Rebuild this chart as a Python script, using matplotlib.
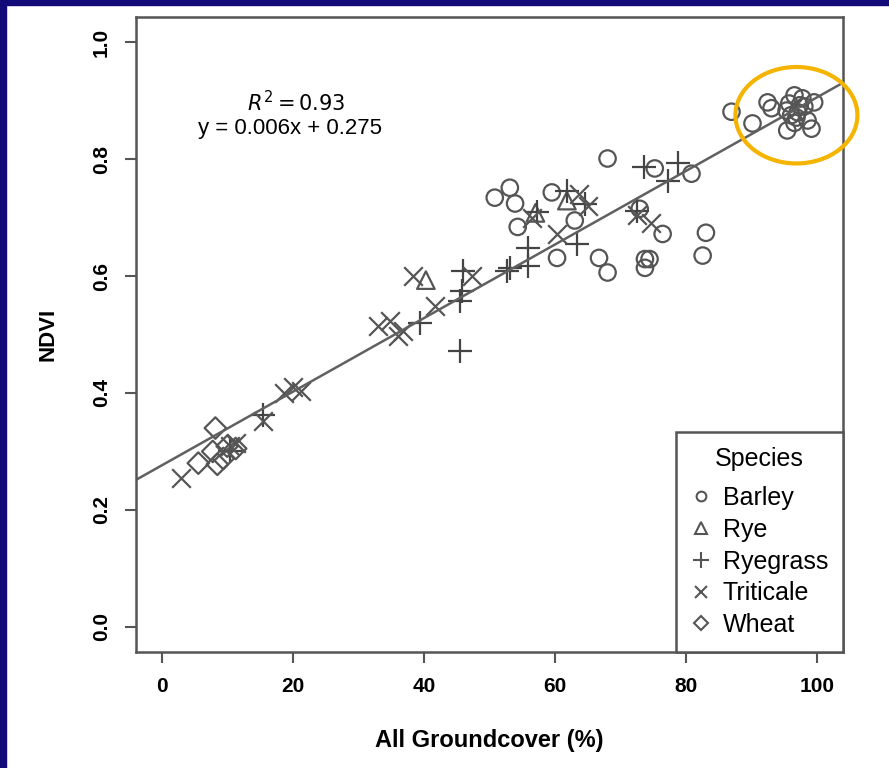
#%%
# NDVI vs all groundcover, by species
import numpy as np
import matplotlib
matplotlib.use('Agg')
import matplotlib.pyplot as plt
from matplotlib.lines import Line2D
from matplotlib.patches import Ellipse, Rectangle

plt.rcParams['font.family'] = ['Liberation Sans', 'DejaVu Sans']

# data (groundcover %, NDVI)
barley_x = [86.9, 90.1, 92.4, 93.0, 95.3, 95.4, 95.7, 96.5, 96.8, 97.3, 97.7, 98.5, 99.1, 99.5,
            96.0, 97.0, 98.0, 96.5,
            68.0, 50.8, 53.1, 53.9, 54.3, 59.5, 63.0, 60.3, 66.7, 68.0, 75.2, 80.8, 72.9,
            76.4, 83.0, 82.5, 73.7, 74.4, 73.7]
barley_y = [0.881, 0.861, 0.897, 0.887, 0.883, 0.849, 0.895, 0.909, 0.871, 0.892, 0.904, 0.866, 0.852, 0.897,
            0.875, 0.880, 0.890, 0.862,
            0.801, 0.734, 0.751, 0.724, 0.684, 0.743, 0.695, 0.631, 0.631, 0.606, 0.784, 0.775, 0.715,
            0.672, 0.674, 0.635, 0.629, 0.629, 0.614]
rye_x = [40.3, 57.0, 61.8]
rye_y = [0.593, 0.708, 0.729]
ryegrass_x = [45.5, 73.5, 78.8, 77.2, 72.5, 61.8, 64.5, 63.3, 55.9, 55.9, 53.1, 46.0, 45.8, 45.5,
              39.4, 52.7, 15.5, 10.5, 57.3]
ryegrass_y = [0.472, 0.786, 0.794, 0.763, 0.712, 0.745, 0.724, 0.655, 0.648, 0.617, 0.614, 0.609, 0.575, 0.557,
              0.520, 0.609, 0.362, 0.300, 0.710]
triticale_x = [2.9, 10.5, 11.3, 15.5, 18.7, 20.1, 21.2, 33.0, 34.9, 36.8, 36.0, 38.4, 41.7, 47.3,
               60.3, 63.7, 65.0, 74.7, 72.5, 56.5]
triticale_y = [0.254, 0.309, 0.315, 0.352, 0.400, 0.410, 0.403, 0.515, 0.523, 0.506, 0.497, 0.600, 0.549, 0.600,
               0.672, 0.740, 0.720, 0.690, 0.705, 0.700]
wheat_x = [8.2, 5.6, 7.8, 8.5, 9.4, 10.0, 11.3]
wheat_y = [0.340, 0.280, 0.300, 0.278, 0.288, 0.309, 0.305]

species = ['Barley', 'Rye', 'Ryegrass', 'Triticale', 'Wheat']
fit_intercept = 0.276
fit_slope = 0.0063

#%%
fig = plt.figure(figsize=(8.89, 7.68), dpi=100)
fig.patch.set_facecolor('white')
# dark blue slide border (left and top)
fig.patches.append(Rectangle((0, 0), 6 / 889, 1, transform=fig.transFigure, color='#120a78', zorder=0))
fig.patches.append(Rectangle((0, 1 - 5 / 768), 1, 5 / 768, transform=fig.transFigure, color='#120a78', zorder=0))

ax = fig.add_axes([136 / 889, 1 - 652 / 768, 707 / 889, 635 / 768])
grey = '#555555'

ax.scatter(barley_x, barley_y, s=140, marker='o', facecolors='none', edgecolors=grey, linewidths=1.6)
ax.scatter(rye_x, rye_y, s=160, marker='^', facecolors='none', edgecolors=grey, linewidths=1.6)
ax.scatter(ryegrass_x, ryegrass_y, s=320, marker='+', color='#444444', linewidths=1.6)
ax.scatter(triticale_x, triticale_y, s=180, marker='x', color=grey, linewidths=1.6)
ax.scatter(wheat_x, wheat_y, s=120, marker='D', facecolors='none', edgecolors=grey, linewidths=1.6)

xs = np.array([-10, 110])
ax.plot(xs, fit_intercept + fit_slope * xs, color='#606060', lw=1.8)

ax.set_xlim(-3.9, 103.9)
ax.set_ylim(-0.043, 1.043)
ax.set_xticks([0, 20, 40, 60, 80, 100])
ax.set_yticks([0.0, 0.2, 0.4, 0.6, 0.8, 1.0])
ax.set_yticklabels(['0.0', '0.2', '0.4', '0.6', '0.8', '1.0'], rotation=90, va='center')
ax.tick_params(length=8, width=1.5, color='#555555', labelsize=15, pad=10)
for lab in ax.get_xticklabels() + ax.get_yticklabels():
    lab.set_fontweight('bold')
for s in ax.spines.values():
    s.set_color('#555555')
    s.set_linewidth(1.8)

ax.set_xlabel('All Groundcover (%)', fontsize=17, fontweight='bold', labelpad=24)
ax.set_ylabel('NDVI', fontsize=16, fontweight='bold', labelpad=24)

ax.text(0.226, 0.865, r'$R^2 = 0.93$', transform=ax.transAxes, fontsize=15, ha='center', va='center')
ax.text(0.218, 0.825, 'y = 0.006x + 0.275', transform=ax.transAxes, fontsize=16, ha='center', va='center')

handles = [
    Line2D([], [], ls='none', marker='o', ms=7, mfc='none', mec=grey, mew=1.5),
    Line2D([], [], ls='none', marker='^', ms=8, mfc='none', mec=grey, mew=1.5),
    Line2D([], [], ls='none', marker='+', ms=11, mec=grey, mew=1.5),
    Line2D([], [], ls='none', marker='x', ms=8, mec=grey, mew=1.5),
    Line2D([], [], ls='none', marker='D', ms=7, mfc='none', mec=grey, mew=1.5),
]
leg = ax.legend(handles, species, loc='lower right', title='Species', fontsize=18, title_fontsize=18,
                borderaxespad=0, fancybox=False, edgecolor='#555555', handlelength=0.8,
                handletextpad=0.45, labelspacing=0.31, borderpad=0.6)
leg.get_frame().set_linewidth(1.8)
leg.get_frame().set_alpha(1)
leg._legend_box.sep = 11  # a bit more room under the title

# highlight of the dense cluster
ax.add_patch(Ellipse((96.8, 0.875), 18.6, 0.165, fill=False, edgecolor='#f5b400', lw=3, clip_on=False, zorder=5))

plt.savefig('out.png', dpi=100)
